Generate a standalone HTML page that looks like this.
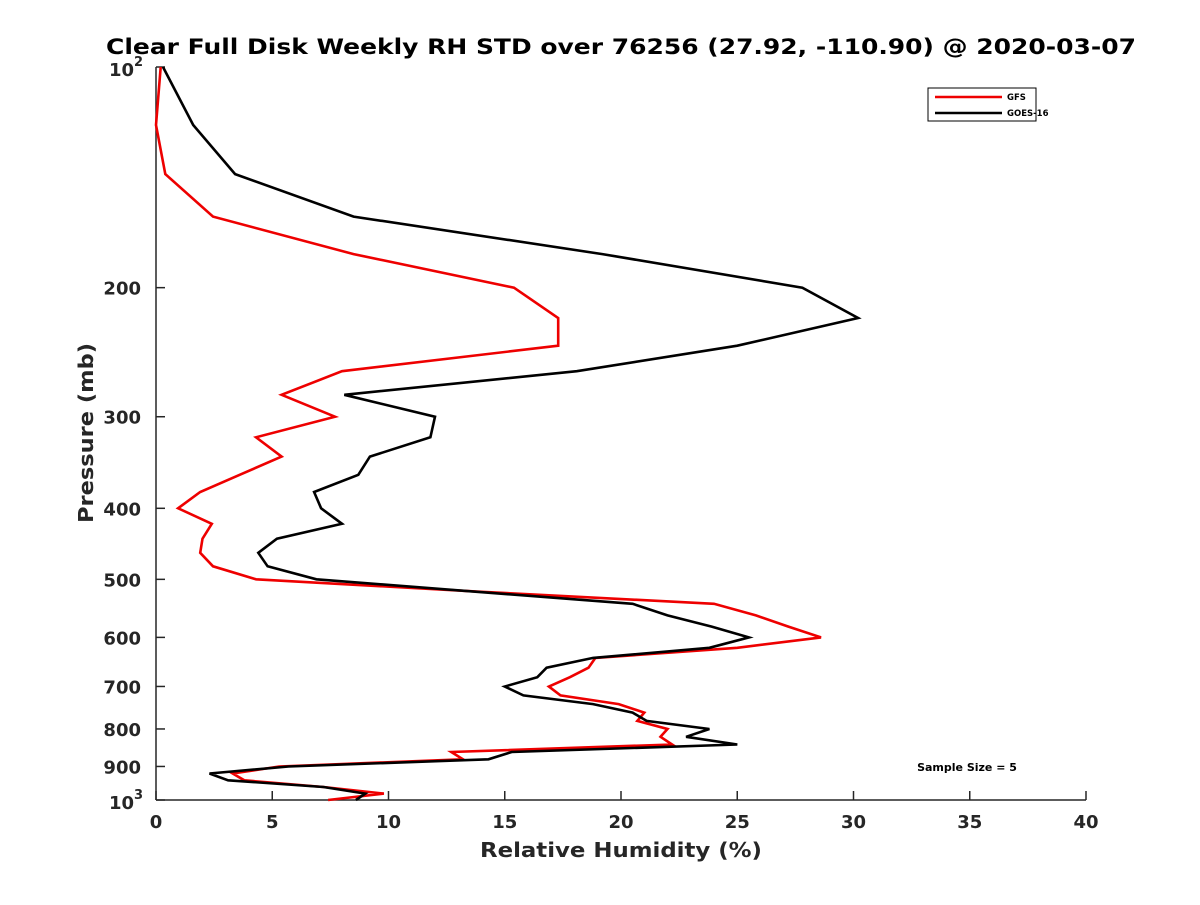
<!DOCTYPE html>
<html><head><meta charset="utf-8"><style>
body{margin:0;background:#fff}
text{font-family:"DejaVu Sans","Liberation Sans",sans-serif;font-weight:bold;fill:#262626}
</style></head><body>
<svg width="1200" height="900" xmlns="http://www.w3.org/2000/svg">
<text x="621" y="54" text-anchor="middle" font-size="21" textLength="1030" lengthAdjust="spacingAndGlyphs" style="fill:#000">Clear Full Disk Weekly RH STD over 76256 (27.92, -110.90) @ 2020-03-07</text>
<g id="axes"></g>
<g id="series"></g>
<g>
<rect x="928" y="88" width="108" height="33" fill="#fff" stroke="#000" stroke-width="1"/>
<line x1="935" y1="97" x2="1002" y2="97" stroke="#e00" stroke-width="2.5"/>
<text x="1007" y="100" font-size="8.5" style="fill:#000">GFS</text>
<line x1="935" y1="113" x2="1002" y2="113" stroke="#000" stroke-width="2.5"/>
<text x="1007" y="116" font-size="8.5" style="fill:#000">GOES-16</text>
</g>
<text x="967" y="771" text-anchor="middle" font-size="11" style="fill:#000">Sample Size = 5</text>
<text x="621" y="857" text-anchor="middle" font-size="20" textLength="282" lengthAdjust="spacingAndGlyphs">Relative Humidity (%)</text>
<text transform="translate(93,433) rotate(-90)" text-anchor="middle" font-size="20" textLength="180" lengthAdjust="spacingAndGlyphs">Pressure (mb)</text>
</svg>
<script>
const pressures=[100,120,140,160,180,200,220,240,260,280,300,320,340,360,380,400,420,440,460,480,500,520,540,560,580,600,620,640,660,680,700,720,740,760,780,800,820,840,860,880,900,920,940,960,980,1000];
const goesRH=[0.3,1.6,3.4,8.5,19.2,27.8,30.2,25.0,18.1,8.1,12.0,11.8,9.2,8.7,6.8,7.1,8.0,5.2,4.4,4.8,6.9,13.8,20.5,22.0,23.9,25.5,23.8,18.8,16.8,16.4,15.0,15.8,18.8,20.5,21.1,23.8,22.8,25.0,15.3,14.3,5.7,2.3,3.1,7.2,9.0,8.6];
const gfsRH=[0.2,0.0,0.4,2.45,8.5,15.4,17.3,17.3,8.0,5.4,7.7,4.3,5.4,3.6,1.9,0.95,2.4,2.0,1.9,2.45,4.3,14.0,24.0,25.8,27.2,28.6,25.0,18.9,18.6,17.8,16.9,17.4,19.9,21.0,20.7,22.0,21.7,22.2,12.7,13.2,5.3,3.3,3.8,7.2,9.8,7.4];
const xTicks=[0,5,10,15,20,25,30,35,40];
const yTicks=[200,300,400,500,600,700,800,900];
const X0=156,X1=1086,Y0=67,Y1=800;
const xs=v=>X0+(X1-X0)*v/40;
const ys=p=>Y0+(Y1-Y0)*Math.log10(p/100);
const NS="http://www.w3.org/2000/svg";
function mk(tag,attrs,parent){const e=document.createElementNS(NS,tag);for(const k in attrs)e.setAttribute(k,attrs[k]);parent.appendChild(e);return e;}
const ax=document.getElementById('axes');
let l=mk('line',{x1:X0,y1:Y0,x2:X0,y2:Y1,stroke:'#262626','stroke-width':1.5},ax);


l=mk('line',{x1:X0,y1:Y1,x2:X1,y2:Y1,stroke:'#262626','stroke-width':1.5},ax);


xTicks.forEach(v=>{
 mk('line',{x1:xs(v),y1:Y1,x2:xs(v),y2:Y1-9,stroke:'#262626','stroke-width':1.5},ax);
 const t=mk('text',{x:xs(v),y:Y1+28,'text-anchor':'middle','font-size':18},ax);
 t.textContent=v;
 
 
});
yTicks.forEach(p=>{
 mk('line',{x1:X0,y1:ys(p),x2:X0+9,y2:ys(p),stroke:'#262626','stroke-width':1.5},ax);
 const t=mk('text',{x:X0-15,y:ys(p)+7,'text-anchor':'end','font-size':18},ax);
 t.textContent=p;
 
 
});
[[100,'2'],[1000,'3']].forEach(([p,e])=>{
 mk('line',{x1:X0,y1:ys(p),x2:X0+9,y2:ys(p),stroke:'#262626','stroke-width':1.5},ax);
 const t=mk('text',{x:X0-22,y:ys(p)+9,'text-anchor':'end','font-size':18},ax);
 t.textContent='10';
 
 
 const s=mk('text',{x:X0-22,y:ys(p)-1,'font-size':13},ax);
 s.textContent=e;
 
 
});
const sg=document.getElementById('series');
function line(vals,color,name){
 const pts=vals.map((v,i)=>xs(v).toFixed(1)+','+ys(pressures[i]).toFixed(1)).join(' ');
 const pl=mk('polyline',{points:pts,fill:'none',stroke:color,'stroke-width':2.6,'stroke-linejoin':'miter'},sg);
 
 
}
line(gfsRH,'#e00','gfs-line');
line(goesRH,'#000','goes16-line');
</script>
</body></html>
